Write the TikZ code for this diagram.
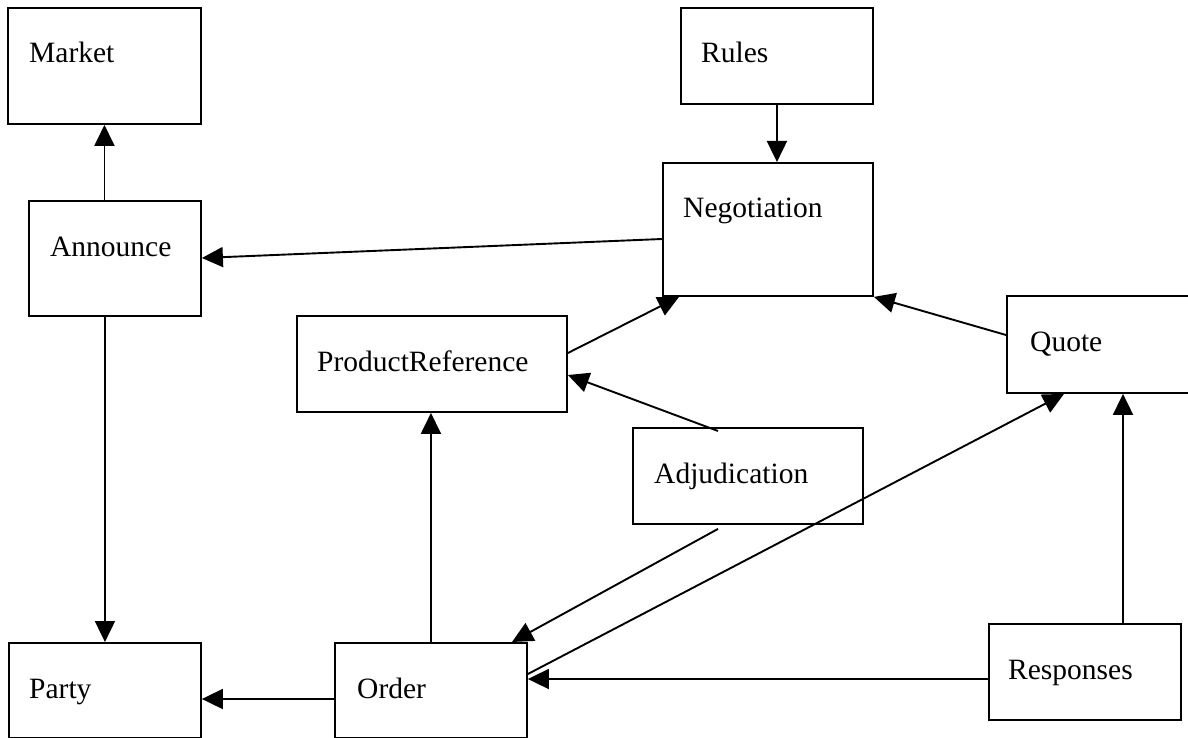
\documentclass[tikz,border=0pt]{standalone}
\usepackage{fontspec}
\setmainfont{Liberation Serif}
\usetikzlibrary{arrows.meta,calc}
\begin{document}
\begin{tikzpicture}[x=1pt,y=-1pt,
  box/.style={draw,line width=1.9pt,anchor=north west,inner sep=0pt},
  lbl/.style={anchor=base west,inner sep=0pt,font=\fontsize{29.5}{35}\selectfont},
  arr/.style={line width=1.9pt,-{Triangle[length=21pt,width=20pt]}}]
\fill[white] (0,0) rectangle (1188,738);
\clip (0,0) rectangle (1188,738);
% boxes
\node[box,minimum width=193pt,minimum height=116pt] (market) at (7,7) {};
\node[box,minimum width=192pt,minimum height=96pt] (rules) at (680,7) {};
\node[box,minimum width=210pt,minimum height=133pt] (neg) at (662,162) {};
\node[box,minimum width=172pt,minimum height=115pt] (announce) at (28,200) {};
\node[box,minimum width=270pt,minimum height=96pt] (pr) at (296,315) {};
\node[box,minimum width=200pt,minimum height=97pt] (quote) at (1006,295) {};
\node[box,minimum width=230pt,minimum height=96pt] (adj) at (632,427) {};
\node[box,minimum width=192pt,minimum height=95pt] (party) at (8,642) {};
\node[box,minimum width=192pt,minimum height=95pt] (order) at (334,642) {};
\node[box,minimum width=192pt,minimum height=96pt] (resp) at (988,623) {};
% labels
\node[lbl] (marketT) at (29,63) {Market};
\node[lbl] (rulesT) at (701,63) {Rules};
\node[lbl] (negT) at (683,218) {Negotiation};
\node[lbl] (announceT) at (50,256) {Announce};
\node[lbl] (prT) at (317,371) {ProductReference};
\node[lbl] (quoteT) at (1030,351) {Quote};
\node[lbl] (adjT) at (654,483) {Adjudication};
\node[lbl] (partyT) at (29,698) {Party};
\node[lbl] (orderT) at (357,698) {Order};
\node[lbl] (respT) at (1008,679) {Responses};
% connectors
\draw[arr] (announce.north -| market.south) -- (market.south);
\draw[arr] (rules.south) -- (rules.south |- neg.north);
\draw[arr] (neg.west |- 0,239) -- (announce.east |- 0,258);
\draw[arr] (announce.south -| party.north) -- (party.north);
\draw[arr] (order.west |- 0,699) -- (party.east |- 0,699);
\draw[arr] (order.north) -- (order.north |- pr.south);
\draw[arr] (pr.east |- 0,353) -- (neg.south -| 679,0);
\draw[arr] ($(adj.north -| 718,0)+(0,4)$) -- (pr.east |- 0,375);
\draw[arr] ($(adj.south -| 718,0)+(0,4)$) -- (order.north -| 512,0);
\draw[arr] (order.east |- 0,674) -- (quote.south -| 1064,0);
\draw[arr] (quote.west |- 0,335) -- (neg.south east);
\draw[arr] (resp.west |- 0,679) -- (order.east |- 0,679);
\draw[arr] (resp.north -| 1123,0) -- (quote.south -| 1123,0);
\end{tikzpicture}
\end{document}
